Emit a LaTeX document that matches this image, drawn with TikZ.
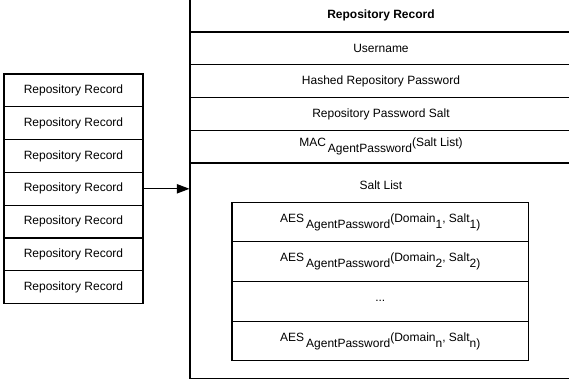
\documentclass[tikz,border=0pt]{standalone}
\usepackage{fontspec}
\setmainfont{Liberation Sans}
\usepackage{tikz}
\usetikzlibrary{arrows.meta}
\tikzset{listrow/.style={rectangle,draw,minimum width=104.25pt,minimum height=24.6pt,inner sep=0pt}}
\tikzset{fieldrow/.style={rectangle,draw,minimum width=286.5pt,minimum height=24.56pt,inner sep=0pt}}
\tikzset{saltrow/.style={rectangle,draw,minimum width=222.4pt,minimum height=29.8pt,inner sep=0pt}}
\tikzset{recordbox/.style={rectangle,draw,minimum width=286.5pt,minimum height=284.3pt,inner sep=0pt}}
\newcommand{\lowtext}[1]{\raisebox{-4.5pt}{#1}}

\begin{document}
\begin{tikzpicture}[x=0.75pt, y=-0.75pt, line width=0.8pt, font=\fontsize{9}{11}\selectfont]

\clip (0,0) rectangle (569,383);

% list of records

  \node [style = listrow] (r1) at (73.5, 90.4) {Repository Record};
  \node [style = listrow] (r2) at (73.5, 123.2) {Repository Record};
  \node [style = listrow] (r3) at (73.5, 156) {Repository Record};
  \node [style = listrow] (r4) at (73.5, 188.8) {Repository Record};
  \node [style = listrow] (r5) at (73.5, 221.6) {Repository Record};
  \node [style = listrow] (r6) at (73.5, 254.4) {Repository Record};
  \node [style = listrow] (r7) at (73.5, 287.2) {Repository Record};

% one record

  \node [style = recordbox] (rec) at (381, 188.8) {};
  \node [style = fieldrow, font=\fontsize{9}{11}\selectfont\bfseries] (title) at (381, 15.6) {Repository Record};
  \node [style = fieldrow] (user) at (381, 48.4) {Username};
  \node [style = fieldrow] (hash) at (381, 81.1) {Hashed Repository Password};
  \node [style = fieldrow] (salt) at (381, 113.9) {Repository Password Salt};
  \node [style = fieldrow] (mac) at (381, 146.6) {MAC\,\lowtext{AgentPassword}(Salt List)};
  \node (saltlist) at (381, 185) {Salt List};

% salt list

  \node [style = saltrow] (s1) at (380.25, 221.9) {AES\,\lowtext{AgentPassword}(Domain\lowtext{1}, Salt\lowtext{1)}};
  \node [style = saltrow] (s2) at (380.25, 261.6) {AES\,\lowtext{AgentPassword}(Domain\lowtext{2}, Salt\lowtext{2)}};
  \node [style = saltrow] (sdots) at (380.25, 301.3) {...};
  \node [style = saltrow] (sn) at (380.25, 341.0) {AES\,\lowtext{AgentPassword}(Domain\lowtext{n}, Salt\lowtext{n)}};

%  arrow
\draw [-{Triangle[length=9.5pt,width=7pt]}] (r4.east) to (rec.west);

\end{tikzpicture}
\end{document}
